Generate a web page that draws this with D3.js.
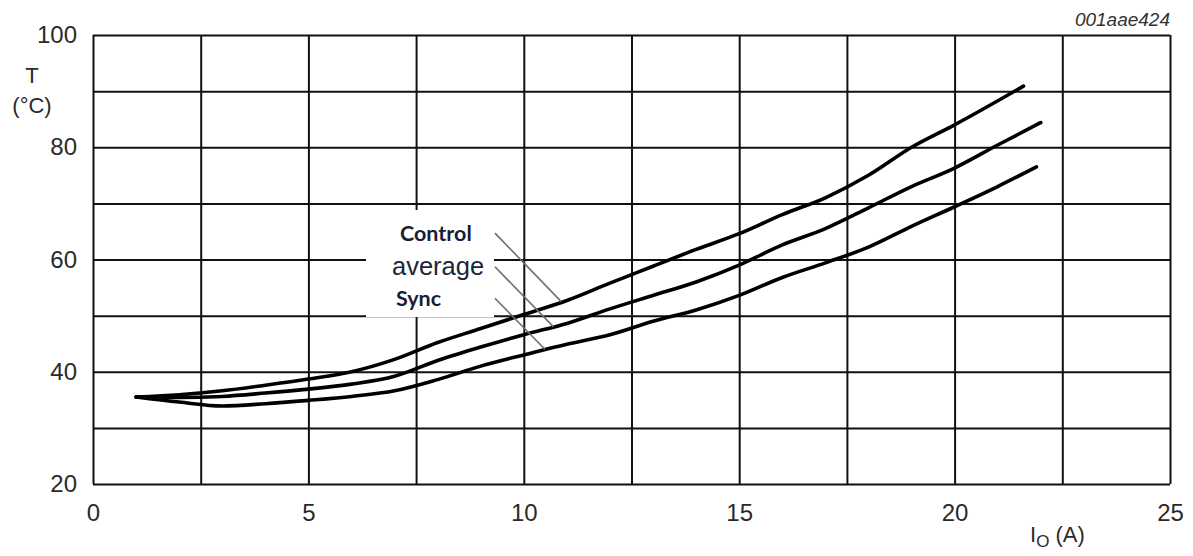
<!DOCTYPE html>
<html>
<head>
<meta charset="utf-8">
<script src="https://cdn.jsdelivr.net/npm/d3@7"></script>
<style>
  html, body { margin: 0; padding: 0; background: #fff; }
  svg { display: block; }
</style>
</head>
<body>
<svg id="chart" width="1193" height="556"></svg>
<script>
// ---- data ----
const xTickValues = [0, 5, 10, 15, 20, 25];
const yTickValues = [20, 40, 60, 80, 100];
const xGridValues = [0, 2.5, 5, 7.5, 10, 12.5, 15, 17.5, 20, 22.5, 25];
const yGridValues = [20, 30, 40, 50, 60, 70, 80, 90, 100];

const controlX = [1, 2, 3, 4, 5, 6, 7, 8, 9, 10, 11, 12, 13, 14, 15, 16, 17, 18, 19, 20, 21.6];
const controlY = [35.5, 35.9, 36.6, 37.6, 38.7, 40.0, 42.2, 45.2, 47.7, 50.2, 52.7, 55.8, 58.8, 61.8, 64.6, 68.0, 71.0, 75.0, 80.0, 84.0, 90.9];

const averageX = [1, 2, 3, 4, 5, 6, 7, 8, 9, 10, 11, 12, 13, 14, 15, 16, 17, 18, 19, 20, 21, 22];
const averageY = [35.5, 35.4, 35.6, 36.2, 36.9, 37.8, 39.2, 42.0, 44.4, 46.6, 48.6, 51.2, 53.6, 56.0, 59.0, 62.6, 65.5, 69.2, 73.0, 76.3, 80.4, 84.4];

const syncX = [1, 2, 3, 4, 5, 6, 7, 8, 9, 10, 11, 12, 13, 14, 15, 16, 17, 18, 19, 20, 21, 21.9];
const syncY = [35.5, 34.6, 33.9, 34.3, 34.9, 35.6, 36.6, 38.6, 41.0, 43.0, 44.9, 46.6, 49.0, 51.0, 53.6, 56.8, 59.4, 62.2, 65.9, 69.4, 73.0, 76.5];

// annotation labels and leader lines (data units)
const labelNames = ["Control", "average", "Sync"];
const leaderStart = [[9.33, 64.7], [9.33, 58.7], [9.33, 53.1]];
const leaderEnd = [[10.87, 52.5], [10.69, 48.0], [10.49, 44.0]];

// ---- layout ----
const svg = d3.select("#chart");
const mLeft = 93, mRight = 1170, mTop = 35, mBottom = 484;
const x = d3.scaleLinear().domain([0, 25]).range([mLeft, mRight]);
const y = d3.scaleLinear().domain([20, 100]).range([mBottom, mTop]);

const textColor = "#2a2a2a";
const font = "Liberation Sans, Arial, sans-serif";

// grid
const gx = svg.append("g").attr("transform", `translate(0,${mBottom})`)
  .call(d3.axisBottom(x).tickValues(xGridValues).tickSize(-(mBottom - mTop)).tickFormat(""));
gx.select(".domain").remove();
gx.selectAll("line").attr("stroke", "#111").attr("stroke-width", 2);

const gy = svg.append("g").attr("transform", `translate(${mLeft},0)`)
  .call(d3.axisLeft(y).tickValues(yGridValues).tickSize(-(mRight - mLeft)).tickFormat(""));
gy.select(".domain").remove();
gy.selectAll("line").attr("stroke", "#111").attr("stroke-width", 2);

// white box behind labels
svg.append("rect")
  .attr("x", 366).attr("y", 210)
  .attr("width", 128).attr("height", 107)
  .attr("fill", "#fff");

// tick labels
const ax = svg.append("g").attr("transform", `translate(0,${mBottom})`)
  .call(d3.axisBottom(x).tickValues(xTickValues).tickSize(0).tickPadding(20).tickFormat(d3.format("d")));
ax.select(".domain").remove();
ax.selectAll("text").attr("font-family", font)
  .attr("font-size", 24).attr("fill", textColor);

const ay = svg.append("g").attr("transform", `translate(${mLeft},0)`)
  .call(d3.axisLeft(y).tickValues(yTickValues).tickSize(0).tickPadding(16).tickFormat(d3.format("d")));
ay.select(".domain").remove();
ay.selectAll("text").attr("font-family", font)
  .attr("font-size", 24).attr("fill", textColor);

// axis titles
svg.append("text").attr("x", 32).attr("y", 83).attr("text-anchor", "middle")
  .attr("font-family", font).attr("font-size", 22).attr("fill", textColor).text("T");
svg.append("text").attr("x", 32).attr("y", 113).attr("text-anchor", "middle")
  .attr("font-family", font).attr("font-size", 22).attr("fill", textColor).text("(°C)");

const xt = svg.append("text").attr("x", 1030).attr("y", 542)
  .attr("font-family", font).attr("font-size", 22).attr("fill", textColor);
xt.append("tspan").text("I");
xt.append("tspan").attr("font-size", 17).attr("dy", 5).text("O");
xt.append("tspan").attr("dy", -5).text(" (A)");

svg.append("text").attr("x", 1170).attr("y", 26).attr("text-anchor", "end")
  .attr("font-family", font).attr("font-size", 19).attr("font-style", "italic")
  .attr("fill", "#333").text("001aae424");

// curves
const line = d3.line().x(d => x(d[0])).y(d => y(d[1])).curve(d3.curveMonotoneX);
const series = [
  d3.zip(controlX, controlY),
  d3.zip(averageX, averageY),
  d3.zip(syncX, syncY)
];
svg.append("g").selectAll("path").data(series).join("path")
  .attr("d", line)
  .attr("fill", "none")
  .attr("stroke", "#000")
  .attr("stroke-width", 3.6)
  .attr("stroke-linejoin", "round")
  .attr("stroke-linecap", "round");

// leader lines
svg.append("g").selectAll("line").data(d3.range(3)).join("line")
  .attr("x1", i => x(leaderStart[i][0])).attr("y1", i => y(leaderStart[i][1]))
  .attr("x2", i => x(leaderEnd[i][0])).attr("y2", i => y(leaderEnd[i][1]))
  .attr("stroke", "#6e6e6e").attr("stroke-width", 1.6);

// labels
svg.append("text").attr("x", 400).attr("y", 241)
  .attr("font-family", "Lato, sans-serif").attr("font-weight", "bold").attr("font-size", 21.5)
  .attr("fill", "#1a1d33").text(labelNames[0]);
svg.append("text").attr("x", 392).attr("y", 275)
  .attr("font-family", font).attr("font-size", 25.5)
  .attr("fill", "#1c2538").text(labelNames[1]);
svg.append("text").attr("x", 396).attr("y", 306)
  .attr("font-family", "Lato, sans-serif").attr("font-weight", "bold").attr("font-size", 21.5)
  .attr("fill", "#1a1d33").text(labelNames[2]);
</script>
</body>
</html>
